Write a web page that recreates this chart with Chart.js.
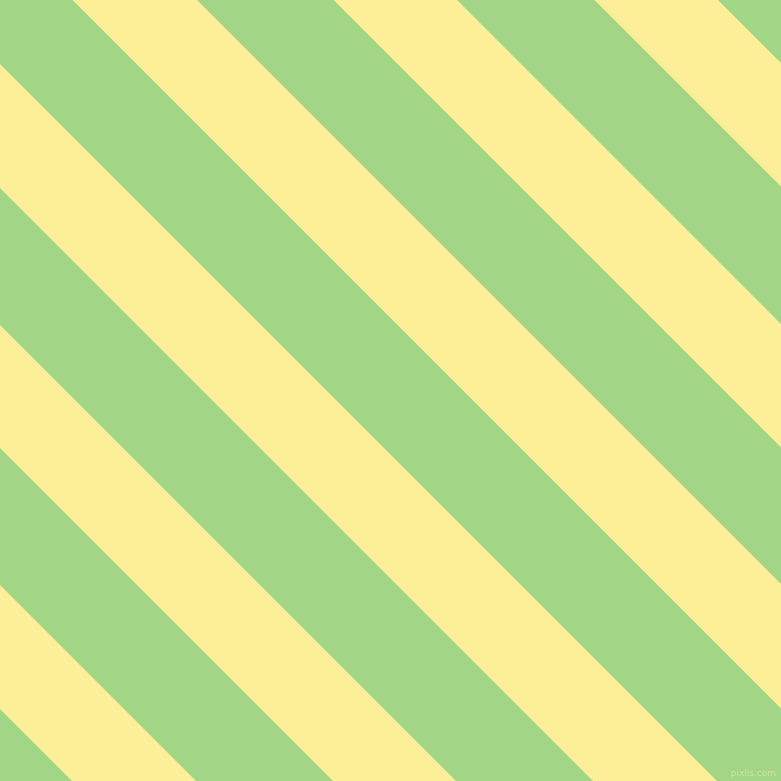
<!DOCTYPE html>
<html>
<head>
<meta charset="utf-8">
<script src="https://cdn.jsdelivr.net/npm/chart.js@4"></script>
<style>
  html, body { margin: 0; padding: 0; background: #a2d586; }
  #wrap { width: 781px; height: 781px; }
</style>
</head>
<body>
<div id="wrap"><canvas id="myChart"></canvas></div>
<script>
// stripe edges, as x - y offsets (pixels of the 781 square)
var stripeStart = [-709, -448, -188, 72.5, 333.5, 594.5];
var stripeEnd   = [-585, -325, -64, 197, 457, 718];
var lineX = [-900, 1700];

var green = '#a2d586';
var yellow = '#fdee98';

function edge(c) {
  return lineX.map(function (x) { return { x: x, y: x - c }; });
}

var datasets = [];
stripeStart.forEach(function (s, i) {
  datasets.push({
    data: edge(s),
    borderColor: 'rgba(0,0,0,0)',
    pointRadius: 0,
    fill: false
  });
  datasets.push({
    data: edge(stripeEnd[i]),
    borderColor: 'rgba(0,0,0,0)',
    backgroundColor: yellow,
    pointRadius: 0,
    fill: '-1'
  });
});

var bgPlugin = {
  id: 'bg',
  beforeDraw: function (chart) {
    var ctx = chart.ctx;
    ctx.save();
    ctx.fillStyle = green;
    ctx.fillRect(0, 0, chart.width, chart.height);
    ctx.restore();
  },
  afterDraw: function (chart) {
    var ctx = chart.ctx;
    ctx.save();
    ctx.font = '9px "DejaVu Sans"';
    ctx.fillStyle = 'rgba(250,240,170,0.55)';
    ctx.textAlign = 'right';
    ctx.textBaseline = 'alphabetic';
    ctx.fillText('pixlis.com', chart.width - 5, chart.height - 5);
    ctx.restore();
  }
};

var ctx = document.getElementById('myChart');
var myChart = new Chart(ctx, {
  type: 'line',
  data: { datasets: datasets },
  options: {
    responsive: true,
    maintainAspectRatio: false,
    animation: false,
    layout: { padding: 0 },
    plugins: { legend: { display: false }, tooltip: { enabled: false } },
    scales: {
      x: { type: 'linear', min: 0, max: 781, display: false },
      y: { type: 'linear', min: 0, max: 781, reverse: true, display: false }
    }
  },
  plugins: [bgPlugin]
});
</script>
</body>
</html>
